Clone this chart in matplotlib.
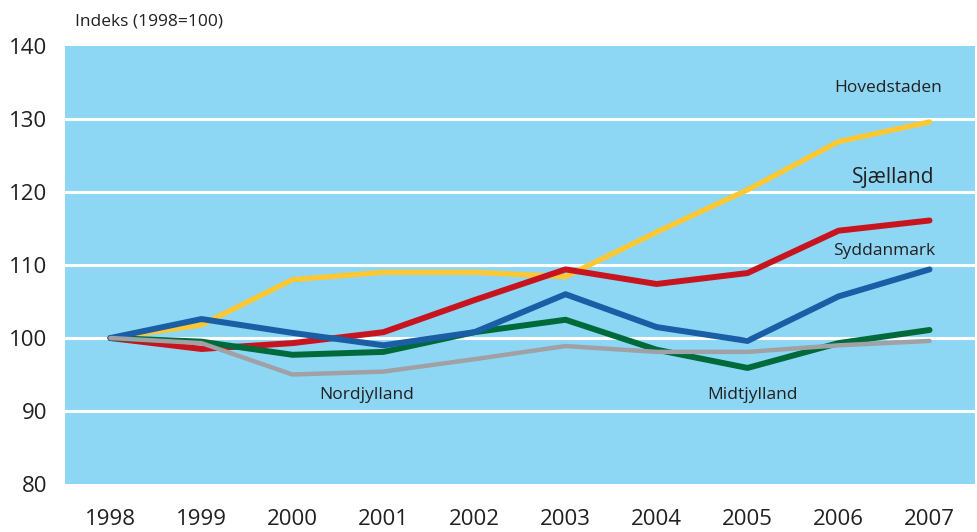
import numpy as np
import matplotlib
matplotlib.use('Agg')
from matplotlib import pyplot as plt

plt.rcParams['font.family'] = ['Open Sans', 'DejaVu Sans']

# data
years = [1998, 1999, 2000, 2001, 2002, 2003, 2004, 2005, 2006, 2007]
hovedstaden = [100, 101.8, 108.0, 109.0, 109.0, 108.4, 114.5, 120.3, 126.9, 129.6]
sjaelland = [100, 98.5, 99.3, 100.8, 105.2, 109.4, 107.4, 108.9, 114.7, 116.1]
syddanmark = [100, 102.6, 100.7, 99.0, 100.8, 106.0, 101.5, 99.6, 105.7, 109.4]
midtjylland = [100, 99.5, 97.7, 98.1, 100.8, 102.5, 98.4, 95.9, 99.3, 101.1]
nordjylland = [100, 99.3, 95.0, 95.4, 97.1, 98.9, 98.1, 98.1, 99.0, 99.6]
yticks = [80, 90, 100, 110, 120, 130, 140]

fig = plt.figure(figsize=(9.77, 5.32), dpi=100)
ax = fig.add_axes([0.0665, 0.0902, 0.9315, 0.8233])
ax.set_facecolor('#8dd7f5')

for v in [90, 100, 110, 120, 130]:
    ax.axhline(v, color='white', lw=2.2, zorder=1)

# bottom -> top drawing order
ax.plot(years, hovedstaden, color='#ffc832', lw=3.8, solid_capstyle='round', zorder=3)
ax.plot(years, sjaelland, color='#c8141e', lw=4.3, solid_capstyle='round', zorder=4)
ax.plot(years, midtjylland, color='#006a3a', lw=4.3, solid_capstyle='round', zorder=5)
ax.plot(years, syddanmark, color='#1a5fa5', lw=4.3, solid_capstyle='round', zorder=6)
ax.plot(years, nordjylland, color='#a0a0a5', lw=3.2, solid_capstyle='round', zorder=7)

tc = '#231f20'
ax.text(2006.55, 134.2, 'Hovedstaden', ha='center', va='center', fontsize=12.5, color=tc)
ax.text(2006.6, 122.0, 'Sjælland', ha='center', va='center', fontsize=15, color=tc)
ax.text(2006.5, 111.9, 'Syddanmark', ha='center', va='center', fontsize=12.5, color=tc)
ax.text(2000.82, 92.2, 'Nordjylland', ha='center', va='center', fontsize=12.5, color=tc)
ax.text(2005.05, 92.2, 'Midtjylland', ha='center', va='center', fontsize=12.5, color=tc)
fig.text(75 / 977, 1 - 22 / 532, 'Indeks (1998=100)', ha='left', va='center', fontsize=12.5, color=tc)

ax.set_xlim(1997.5, 2007.5)
ax.set_ylim(80, 140)
ax.set_xticks(years)
ax.set_yticks(yticks)
ax.tick_params(length=0, labelsize=16, colors=tc)
ax.tick_params(axis='x', pad=18)
ax.tick_params(axis='y', pad=13)
for s in ax.spines.values():
    s.set_visible(False)

fig.savefig('out.png', dpi=100)
